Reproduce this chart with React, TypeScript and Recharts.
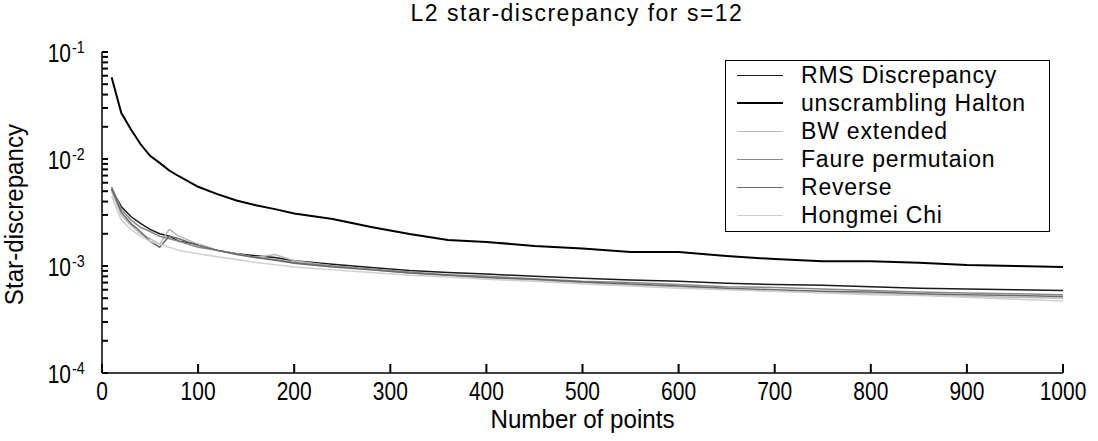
import React from 'react';
import { LineChart, Line, XAxis, YAxis, Legend } from 'recharts';

const W = 1098;
const H = 441;
const PL = 102;
const PR = 1063;
const PT = 52;
const PB = 373;

const TITLE = 'L2 star-discrepancy for s=12';
const X_LABEL = 'Number of points';
const Y_LABEL = 'Star-discrepancy';

const points = [10, 20, 30, 40, 50, 60, 70, 80, 100, 120, 140, 160, 180, 200, 240, 280, 320, 360, 400, 450, 500, 550, 600, 650, 700, 750, 800, 850, 900, 950, 1000];

const rmsDiscrepancy = [0.0052, 0.0036, 0.0029, 0.0025, 0.0022, 0.002, 0.0019, 0.0017, 0.0016, 0.0014, 0.0013, 0.00125, 0.0012, 0.00112, 0.00104, 0.00097, 0.00091, 0.00087, 0.00084, 0.0008, 0.00077, 0.00074, 0.00072, 0.00069, 0.00067, 0.00066, 0.00064, 0.00062, 0.00061, 0.0006, 0.00059];
const unscramblingHalton = [0.058, 0.027, 0.019, 0.0138, 0.0107, 0.0092, 0.0078, 0.0069, 0.0055, 0.0047, 0.0041, 0.0037, 0.0034, 0.0031, 0.00275, 0.00231, 0.00199, 0.00175, 0.00168, 0.00154, 0.00146, 0.00135, 0.00135, 0.00124, 0.00116, 0.00111, 0.00111, 0.00107, 0.00102, 0.001, 0.00098];
const bwExtended = [0.005, 0.003, 0.0024, 0.002, 0.0018, 0.0016, 0.0022, 0.0019, 0.0016, 0.0014, 0.0013, 0.0012, 0.00128, 0.00112, 0.001, 0.00092, 0.00086, 0.00082, 0.00078, 0.00074, 0.0007, 0.00066, 0.00064, 0.00061, 0.00058, 0.00057, 0.00055, 0.00054, 0.00052, 0.00051, 0.0005];
const faurePermutation = [0.0055, 0.0034, 0.0027, 0.0023, 0.0021, 0.0019, 0.0018, 0.0017, 0.0015, 0.0014, 0.0013, 0.0012, 0.00115, 0.00108, 0.001, 0.00094, 0.00088, 0.00083, 0.0008, 0.00076, 0.00072, 0.0007, 0.00067, 0.00064, 0.00063, 0.00061, 0.00059, 0.00057, 0.00056, 0.00055, 0.00054];
const reverse = [0.0053, 0.0032, 0.0025, 0.0021, 0.0017, 0.0015, 0.0019, 0.0018, 0.00155, 0.0014, 0.00128, 0.0012, 0.00113, 0.00106, 0.00098, 0.00092, 0.00086, 0.00082, 0.00078, 0.00075, 0.00071, 0.00068, 0.00065, 0.00062, 0.0006, 0.00058, 0.00057, 0.00055, 0.00054, 0.00053, 0.00052];
const hongmeiChi = [0.0045, 0.0027, 0.0022, 0.0019, 0.0017, 0.0016, 0.0015, 0.0014, 0.0013, 0.00122, 0.00115, 0.00108, 0.00103, 0.00098, 0.00092, 0.00087, 0.00082, 0.00079, 0.00075, 0.00072, 0.00068, 0.00065, 0.00062, 0.0006, 0.00058, 0.00056, 0.00054, 0.00053, 0.00051, 0.00049, 0.00047];

const xTicks = [0, 100, 200, 300, 400, 500, 600, 700, 800, 900, 1000];
const yMajorTicks = [1e-4, 1e-3, 1e-2, 1e-1];

const series = [
  { key: 'rms', name: 'RMS Discrepancy', values: rmsDiscrepancy, color: '#1a1a1a', width: 1.5, xId: 0, yId: 0 },
  { key: 'halton', name: 'unscrambling Halton', values: unscramblingHalton, color: '#000000', width: 2, xId: 'top', yId: 'right' },
  { key: 'bw', name: 'BW extended', values: bwExtended, color: '#b8b8b8', width: 1.5, xId: 0, yId: 0 },
  { key: 'faure', name: 'Faure permutaion', values: faurePermutation, color: '#8a8a8a', width: 1.5, xId: 0, yId: 0 },
  { key: 'rev', name: 'Reverse', values: reverse, color: '#6a6a6a', width: 1.5, xId: 0, yId: 0 },
  { key: 'chi', name: 'Hongmei Chi', values: hongmeiChi, color: '#cfcfcf', width: 1.5, xId: 0, yId: 0 },
];

const data = points.map((n, i) => {
  const row: Record<string, number> = { n };
  series.forEach((s) => {
    row[s.key] = s.values[i];
  });
  return row;
});

const yAllTicks: number[] = [];
for (let e = -4; e < -1; e++) {
  for (let m = 1; m <= 9; m++) yAllTicks.push(parseFloat((m * Math.pow(10, e)).toPrecision(3)));
}
yAllTicks.push(yMajorTicks[yMajorTicks.length - 1]);

const SANS = "'Liberation Sans', Arial, sans-serif";
const SX = 0.84;

const YTick = (props: any) => {
  const { y, payload } = props;
  const v = payload.value as number;
  const lg = Math.log10(v);
  const exp = Math.round(lg);
  const major = Math.abs(lg - exp) < 1e-6;
  if (!major) return <g />;
  return (
    <g fontFamily={SANS} fill="#000">
      <text x={0} y={0} transform={`translate(${PL - 31},${y + 10}) scale(${SX},1)`} textAnchor="end" fontSize={25}>10</text>
      <text x={0} y={0} transform={`translate(${PL - 30},${y + 1}) scale(${SX},1)`} textAnchor="start" fontSize={17}>{String(exp)}</text>
    </g>
  );
};

const XTick = (props: any) => {
  const { x, payload } = props;
  return (
    <text x={0} y={0} transform={`translate(${x},${PB + 27}) scale(${SX},1)`} textAnchor="middle" fontSize={25} fontFamily={SANS} fill="#000">
      {payload.value}
    </text>
  );
};

const Empty = () => <g />;

const LegendBox = () => (
  <div
    style={{
      width: 325,
      height: 172,
      border: '1.5px solid #000',
      background: '#fff',
      boxSizing: 'border-box',
      paddingTop: 0,
      fontFamily: SANS,
    }}
  >
    {series.map((s) => (
      <div key={s.key} style={{ height: 28, display: 'flex', alignItems: 'center' }}>
        <div style={{ marginLeft: 11, width: 46, height: 0, borderTop: `${s.width}px solid ${s.color}` }} />
        <span style={{ marginLeft: 18, fontSize: 23, letterSpacing: 0.8, color: '#000', lineHeight: '28px' }}>{s.name}</span>
      </div>
    ))}
  </div>
);

const axisStroke = { stroke: '#000', strokeWidth: 1.5 };
const tickStroke = { stroke: '#000', strokeWidth: 2 };

export default function App() {
  return (
    <div style={{ position: 'absolute', left: 0, top: 0, width: W, height: H, background: '#fff' }}>
      <div
        style={{
          position: 'absolute',
          left: 577,
          top: 0,
          transform: 'translateX(-50%)',
          whiteSpace: 'nowrap',
          fontFamily: SANS,
          fontSize: 23,
          letterSpacing: 1.5,
          color: '#000',
        }}
      >
        {TITLE}
      </div>
      <LineChart width={W} height={H} data={data} margin={{ top: PT, right: W - PR, bottom: 0, left: 0 }}>
        <XAxis
          dataKey="n"
          type="number"
          domain={[0, 1000]}
          allowDataOverflow
          ticks={xTicks}
          tick={<XTick />}
          tickSize={-9}
          tickLine={tickStroke}
          axisLine={axisStroke}
          height={H - PB}
          interval={0}
          label={() => (
            <text x={0} y={0} transform={`translate(${(PL + PR) / 2},428) scale(0.93,1)`} textAnchor="middle" fontSize={26} fontFamily={SANS} fill="#000">
              {X_LABEL}
            </text>
          )}
        />
        <XAxis
          xAxisId="top"
          orientation="top"
          dataKey="n"
          type="number"
          domain={[0, 1000]}
          allowDataOverflow
          ticks={xTicks}
          tick={<Empty />}
          tickSize={-9}
          tickLine={tickStroke}
          axisLine={axisStroke}
          height={0}
          interval={0}
        />
        <YAxis
          type="number"
          scale="log"
          domain={[1e-4, 1e-1]}
          allowDataOverflow
          ticks={yAllTicks}
          tick={<YTick />}
          tickSize={-6}
          tickLine={tickStroke}
          interval={0}
          width={PL}
          axisLine={axisStroke}
          label={() => (
            <text
              x={0}
              y={0}
              transform={`translate(23, ${(PT + PB) / 2 + 2}) rotate(-90) scale(0.93,1)`}
              textAnchor="middle"
              fontSize={26}
              fontFamily={SANS}
              fill="#000"
            >
              {Y_LABEL}
            </text>
          )}
        />
        <YAxis
          yAxisId="right"
          orientation="right"
          type="number"
          scale="log"
          domain={[1e-4, 1e-1]}
          allowDataOverflow
          ticks={yAllTicks}
          tick={<Empty />}
          tickSize={-7}
          tickLine={tickStroke}
          interval={0}
          width={0}
          axisLine={axisStroke}
        />
        {series.map((s) => (
          <Line
            key={s.key}
            xAxisId={s.xId}
            yAxisId={s.yId}
            dataKey={s.key}
            name={s.name}
            stroke={s.color}
            strokeWidth={s.width}
            dot={false}
            type="linear"
            isAnimationActive={false}
          />
        ))}
        <Legend
          layout="vertical"
          align="center"
          verticalAlign="middle"
          content={() => <LegendBox />}
          wrapperStyle={{ left: 725, top: 60, width: 325, height: 172 }}
        />
      </LineChart>
    </div>
  );
}
